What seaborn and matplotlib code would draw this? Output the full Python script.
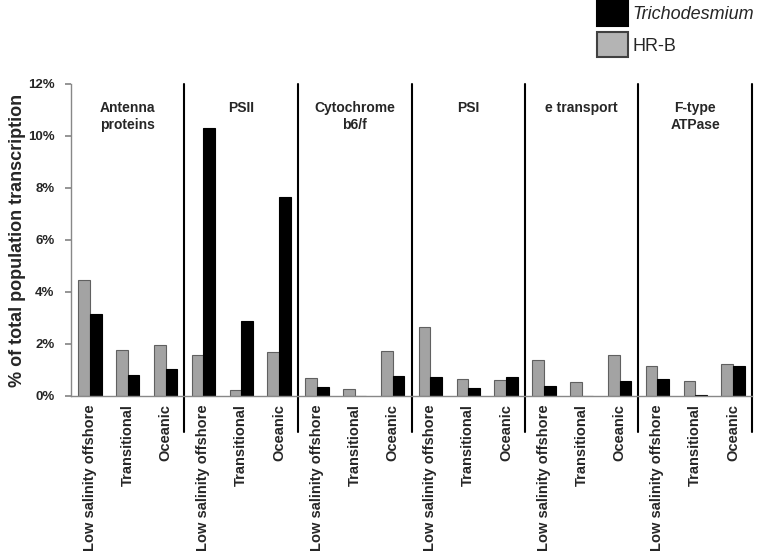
import matplotlib
matplotlib.use("Agg")
import matplotlib.pyplot as plt
from matplotlib.patches import Patch
import pandas as pd
import seaborn as sns

groups = ["Antenna\nproteins", "PSII", "Cytochrome\nb6/f", "PSI", "e transport", "F-type\nATPase"]
sites = ["Low salinity offshore", "Transitional", "Oceanic"]
# % of total population transcription, per group, per site (LS, Trans, Oceanic)
hrb = [4.46, 1.77, 1.97,
       1.58, 0.23, 1.70,
       0.70, 0.28, 1.75,
       2.67, 0.67, 0.60,
       1.40, 0.55, 1.58,
       1.15, 0.58, 1.22]
tricho = [3.14, 0.81, 1.03,
          10.30, 2.88, 7.67,
          0.33, 0.00, 0.77,
          0.74, 0.30, 0.74,
          0.40, 0.00, 0.59,
          0.65, 0.04, 1.15]

sns.set_theme(style="white")
plt.rcParams["font.family"] = ["Liberation Sans", "DejaVu Sans"]

keys = [f"{g}|{s}" for g in groups for s in sites]
df = pd.DataFrame({
    "key": keys * 2,
    "value": hrb + tricho,
    "species": ["HR-B"] * len(keys) + ["Trichodesmium"] * len(keys),
})

fig = plt.figure(figsize=(7.58, 5.55), dpi=100)
ax = fig.add_axes([71 / 758, 159 / 555, 681 / 758, 312 / 555])

sns.barplot(data=df, x="key", y="value", hue="species", order=keys,
            hue_order=["HR-B", "Trichodesmium"],
            palette={"HR-B": "#a3a3a3", "Trichodesmium": "#000000"},
            width=0.62, errorbar=None, saturation=1, ax=ax)
for cont, ec in zip(ax.containers, ["#606060", "#000000"]):
    for bar in cont:
        bar.set_edgecolor(ec)
        bar.set_linewidth(0.8)
ax.get_legend().remove()

ax.set_xlim(-0.5, len(keys) - 0.5)
ax.set_ylim(0, 12)
ax.set_yticks(range(0, 13, 2))
ax.set_yticklabels([f"{v}%" for v in range(0, 13, 2)], fontweight="bold", fontsize=9.5)
ax.set_xticks(range(len(keys)))
ax.set_xticklabels(sites * len(groups), rotation=90, fontweight="bold", fontsize=10.5)
ax.tick_params(axis="x", length=0, pad=6)
ax.tick_params(axis="y", length=4, color="#888888", direction="out", left=True, pad=8)
ax.set_xlabel("")
ax.set_ylabel("% of total population transcription", fontweight="bold", fontsize=13, labelpad=1.5)

for s in ["top", "right"]:
    ax.spines[s].set_visible(False)
for s in ["left", "bottom"]:
    ax.spines[s].set_color("#888888")
    ax.spines[s].set_linewidth(1)

# group separators, running down into the tick label area
for i in range(1, len(groups) + 1):
    ax.plot([i * 3 - 0.5] * 2, [-0.115, 1.0], color="black", lw=1.5,
            transform=ax.get_xaxis_transform(), clip_on=False)

# group titles
for i, g in enumerate(groups):
    ax.text(i * 3 + 1, 11.35, g, ha="center", va="top", fontweight="bold",
            fontsize=10, linespacing=1.3)

handles = [Patch(facecolor="#000000", edgecolor="#000000", lw=1.5),
           Patch(facecolor="#b4b4b4", edgecolor="#404040", lw=1.5)]
leg = fig.legend(handles, ["Trichodesmium", "HR-B"], loc="upper left",
                 bbox_to_anchor=(597 / 758, 1 - 1 / 555), frameon=False,
                 borderpad=0, borderaxespad=0, fontsize=13,
                 handlelength=1.72, handleheight=1.72, handletextpad=0.22,
                 labelspacing=0.38)
leg.get_texts()[0].set_style("italic")

fig.savefig("out.png", dpi=100)
